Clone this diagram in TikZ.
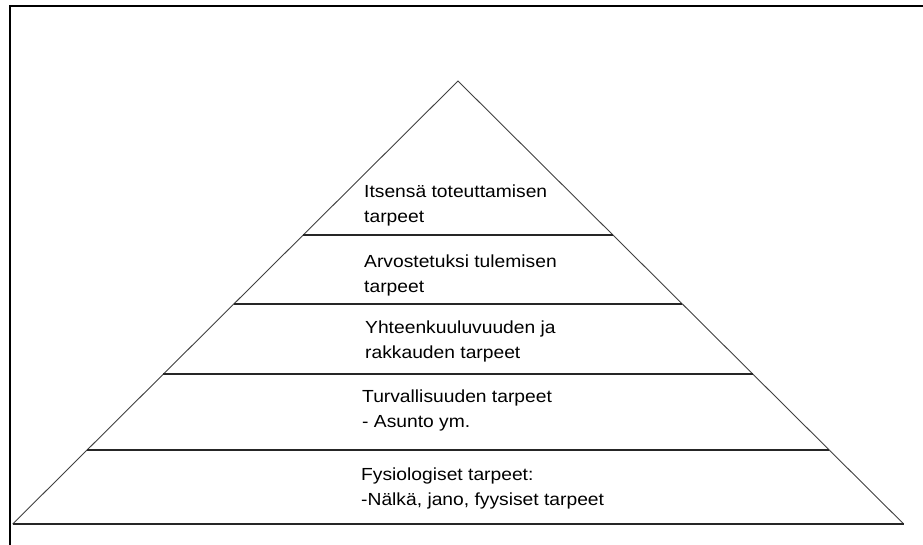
\documentclass[tikz,border=0pt]{standalone}
\usepackage{fontspec}
\setmainfont{Liberation Sans}[FakeStretch=1.1]
\usetikzlibrary{calc}

\tikzset{
    levelline/.style={line width=1.2pt, black!85},
    edgeline/.style={line width=0.9pt, black!75},
    needtext/.style={anchor=base west, align=left, inner sep=0pt,
        font=\fontsize{17.5}{25}\selectfont}
}

\begin{document}
\begin{tikzpicture}[x=1pt, y=-1pt]
        \useasboundingbox (0,0) rectangle (923,544);
        \clip (0,0) rectangle (923,544);

        % Frame
        \draw[line width=1.8pt] (10,6) rectangle (935,560);

        % Pyramid
        \coordinate (apex) at (458,81);
        \coordinate (bl) at (12.7,524);
        \coordinate (br) at (903.7,524);
        \draw[edgeline] (bl) -- (apex) -- (br);
        \draw[levelline] (bl) -- (br);

        % Levels
        \foreach \y/\name in {235/l1, 304/l2, 374/l3, 450/l4}{
            \pgfmathsetmacro{\t}{(\y-81)/443}
            \coordinate (\name w) at ($(apex)!\t!(bl)$);
            \coordinate (\name e) at ($(apex)!\t!(br)$);
            \draw[levelline] (\name w) -- (\name e);
        }

        % Texts (base = last line)
        \node[needtext] (itse) at (364,222) {Itsensä toteuttamisen\\tarpeet};
        \node[needtext] (arvo) at (364,292) {Arvostetuksi tulemisen\\tarpeet};
        \node[needtext] (yhte) at (365,358) {Yhteenkuuluvuuden ja\\rakkauden tarpeet};
        \node[needtext] (turva) at (362,427) {Turvallisuuden tarpeet\\- Asunto ym.};
        \node[needtext] (fysio) at (361,505) {Fysiologiset tarpeet:\\-Nälkä, jano, fyysiset tarpeet};
\end{tikzpicture}
\end{document}
